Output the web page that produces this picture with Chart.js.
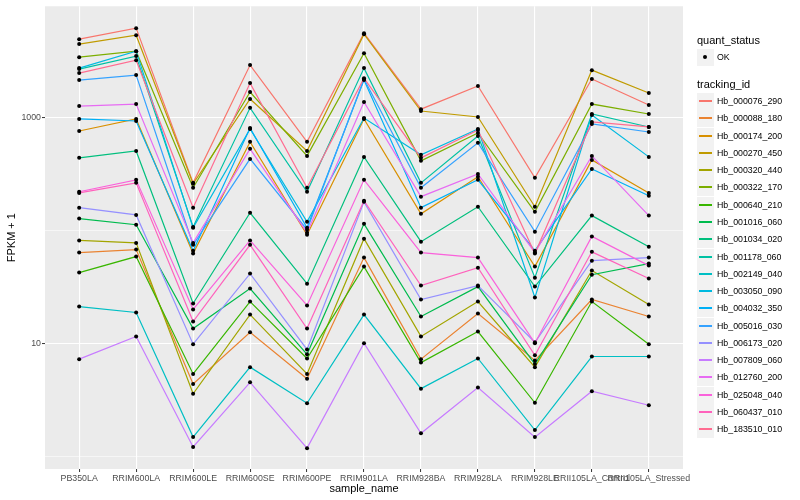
<!DOCTYPE html>
<html>
<head>
<meta charset="utf-8">
<script src="https://cdn.jsdelivr.net/npm/chart.js@4.4.1/dist/chart.umd.min.js"></script>
<style>
  body { margin: 0; background: #fff; font-family: "Liberation Sans", Arial, sans-serif; }
  #wrap { position: relative; width: 800px; height: 500px; }
  #legend div { position: absolute; white-space: nowrap; }
  .lg-title { font-size: 11px; line-height: 12px; color: #000; }
  .lg-text { font-size: 8.8px; line-height: 10px; color: #000; }
  .lg-key { width: 17px; height: 17px; background: #F2F2F2; }
</style>
</head>
<body>
<div id="wrap">
  <canvas id="fpkmChart" width="800" height="500"></canvas>
  <div id="legend"></div>
</div>
<script>
// Samples on the x axis
const sampleNames = ["PB350LA", "RRIM600LA", "RRIM600LE", "RRIM600SE", "RRIM600PE", "RRIM901LA",
  "RRIM928BA", "RRIM928LA", "RRIM928LE", "RRII105LA_Control", "RRII105LA_Stressed"];

// Genes (legend order) and their colours
const trackingIds = ["Hb_000076_290", "Hb_000088_180", "Hb_000174_200", "Hb_000270_450", "Hb_000320_440",
  "Hb_000322_170", "Hb_000640_210", "Hb_001016_060", "Hb_001034_020", "Hb_001178_060", "Hb_002149_040",
  "Hb_003050_090", "Hb_004032_350", "Hb_005016_030", "Hb_006173_020", "Hb_007809_060", "Hb_012760_200",
  "Hb_025048_040", "Hb_060437_010", "Hb_183510_010"];
const lineColors = ["#F8766D", "#EA8331", "#D89000", "#C09B00", "#A3A500", "#7CAE00", "#39B600", "#00BB4E",
  "#00BF7D", "#00C1A3", "#00BFC4", "#00BAE0", "#00B0F6", "#35A2FF", "#9590FF", "#C77CFF", "#E76BF3",
  "#FA62DB", "#FF62BC", "#FF6C91"];

// FPKM + 1 per gene, one value per sample
const hb_000076_290 = [4950, 6200, 265, 2920, 611, 5600, 1190, 1910, 294, 2200, 1295];
const hb_000088_180 = [64, 68, 4.4, 12.6, 4.9, 57.8, 7.3, 18.5, 7.1, 24.6, 17.4];
const hb_000174_200 = [763, 975, 62.7, 611, 92, 975, 141, 300, 48.1, 423, 216];
const hb_000270_450 = [4480, 5370, 260, 1463, 508, 5480, 1146, 1014, 163, 2636, 1652];
const hb_000320_440 = [82, 78, 3.6, 18.1, 5.4, 85, 11.6, 23.6, 6.2, 44.4, 22.2];
const hb_000322_170 = [3436, 3880, 240, 1687, 459, 3724, 415, 732, 147, 1321, 1079];
const hb_000640_210 = [42.6, 59, 5.4, 23.6, 7.4, 48.1, 6.8, 12.8, 3.0, 23.6, 9.9];
const hb_001016_060 = [128, 113, 13.6, 30.8, 8.05, 115, 17.4, 32, 6.6, 40.8, 51.2];
const hb_001034_020 = [441, 508, 22.7, 144, 34, 450, 80, 163, 32, 136, 72];
const hb_001178_060 = [2692, 3508, 108, 1222, 221, 2747, 265, 689, 38.4, 1079, 828];
const hb_002149_040 = [21.3, 18.9, 1.49, 6.2, 2.97, 18.1, 4.0, 7.4, 1.72, 7.7, 7.7];
const hb_003050_090 = [2747, 3880, 106, 794, 120, 994, 469, 794, 25.6, 1056, 450];
const hb_004032_350 = [975, 935, 66.5, 811, 106, 2153, 160, 282, 66.5, 352, 204];
const hb_005016_030 = [2153, 2383, 75, 432, 102, 2198, 240, 599, 98, 879, 747];
const hb_006173_020 = [160, 138, 9.9, 41.7, 8.9, 180, 24.6, 32.7, 10.3, 54.3, 57.8];
const hb_007809_060 = [7.3, 11.6, 1.22, 4.55, 1.19, 10.1, 1.61, 4.1, 1.49, 3.8, 2.85];
const hb_012760_200 = [1268, 1321, 78, 530, 96, 1377, 200, 318, 64, 459, 136];
const hb_025048_040 = [221, 282, 20.1, 82, 21.8, 282, 64, 57.8, 10.1, 89, 49.1];
const hb_060437_010 = [216, 265, 15.7, 75, 13.6, 184, 32.7, 47.1, 7.9, 65, 37.7];
const hb_183510_010 = [2483, 3228, 160, 2023, 240, 2239, 441, 778, 62.7, 916, 828];

const seriesValues = [hb_000076_290, hb_000088_180, hb_000174_200, hb_000270_450, hb_000320_440,
  hb_000322_170, hb_000640_210, hb_001016_060, hb_001034_020, hb_001178_060, hb_002149_040,
  hb_003050_090, hb_004032_350, hb_005016_030, hb_006173_020, hb_007809_060, hb_012760_200,
  hb_025048_040, hb_060437_010, hb_183510_010];

// y axis breaks: labelled ones and the minor ones between
const yLabelTicks = [10, 1000];
const yGridTicks = [1, 10, 100, 1000];

const FONT = '"Liberation Sans", Arial, sans-serif';

// grey panel behind the grid, like ggplot
const panelBg = {
  id: 'panelBg',
  beforeDraw(chart) {
    const { ctx, chartArea: a } = chart;
    ctx.save();
    ctx.fillStyle = '#EBEBEB';
    ctx.fillRect(a.left, a.top, a.right - a.left, a.bottom - a.top);
    ctx.restore();
  }
};

const lineSets = trackingIds.map((id, i) => ({
  label: id,
  data: seriesValues[i].map((v, j) => ({ x: j, y: v })),
  showLine: true,
  borderColor: lineColors[i],
  borderWidth: 1.2,
  pointRadius: 0,
  tension: 0,
  order: trackingIds.length - i
}));

const pointSet = {
  label: 'OK',
  data: seriesValues.flatMap(vals => vals.map((v, j) => ({ x: j, y: v }))),
  showLine: false,
  pointRadius: 2,
  pointBackgroundColor: '#000',
  pointBorderWidth: 0,
  order: 0
};

new Chart(document.getElementById('fpkmChart'), {
  type: 'scatter',
  data: { datasets: [...lineSets, pointSet] },
  plugins: [panelBg],
  options: {
    responsive: false,
    animation: false,
    layout: { padding: { top: 5, right: 117, left: 0, bottom: 0 } },
    plugins: { legend: { display: false }, tooltip: { enabled: false } },
    scales: {
      x: {
        type: 'linear',
        min: -0.6,
        max: sampleNames.length - 1 + 0.6,
        afterBuildTicks: s => { s.ticks = sampleNames.map((n, i) => ({ value: i })); },
        afterFit: s => { s.height = 31; },
        border: { display: false },
        grid: { color: '#FFFFFF', lineWidth: 1.1, tickColor: '#333333', tickLength: 3, tickWidth: 1 },
        ticks: {
          autoSkip: false, maxRotation: 0, padding: 1,
          color: '#4D4D4D', font: { family: FONT, size: 8.8 },
          callback: v => sampleNames[v] ?? ''
        },
        title: { display: true, text: 'sample_name', color: '#000', font: { family: FONT, size: 11 }, padding: { top: 0, bottom: 4 } }
      },
      y: {
        type: 'logarithmic',
        min: 0.778,
        max: 9684,
        afterBuildTicks: s => { s.ticks = yGridTicks.map(v => ({ value: v })); },
        afterFit: s => { s.width = 45; },
        border: { display: false },
        grid: {
          color: '#FFFFFF',
          lineWidth: c => yLabelTicks.includes(c.tick && c.tick.value) ? 1.1 : 0.55,
          tickColor: c => yLabelTicks.includes(c.tick && c.tick.value) ? '#333333' : 'rgba(0,0,0,0)',
          tickLength: 3, tickWidth: 1
        },
        ticks: {
          padding: 1, color: '#4D4D4D', font: { family: FONT, size: 8.8 },
          callback: v => yLabelTicks.includes(v) ? String(v) : ''
        },
        title: { display: true, text: 'FPKM + 1', color: '#000', font: { family: FONT, size: 11 }, padding: { top: 5, bottom: 0 } }
      }
    }
  }
});

// ggplot-style legend on the right
const legend = document.getElementById('legend');
function add(cls, css, html) {
  const d = document.createElement('div');
  d.className = cls;
  d.style.cssText = css;
  if (html) d.innerHTML = html;
  legend.appendChild(d);
  return d;
}
const LX = 697, KEY = 17.28;
add('lg-title', `left:${LX}px;top:34px;`, 'quant_status');
add('lg-key', `left:${LX}px;top:49px;`,
  `<div style="left:6px;top:6px;width:4px;height:4px;border-radius:50%;background:#000"></div>`);
add('lg-text', `left:${LX + 20}px;top:52px;`, 'OK');
add('lg-title', `left:${LX}px;top:78px;`, 'tracking_id');
trackingIds.forEach((id, i) => {
  const cy = Math.round(101 + i * KEY);
  add('lg-key', `left:${LX}px;top:${cy - 8}px;`,
    `<div style="left:2px;width:13px;top:7px;height:2px;background:${lineColors[i]}"></div>`);
  add('lg-text', `left:${LX + 20}px;top:${cy - 5}px;`, id);
});
</script>
</body>
</html>
